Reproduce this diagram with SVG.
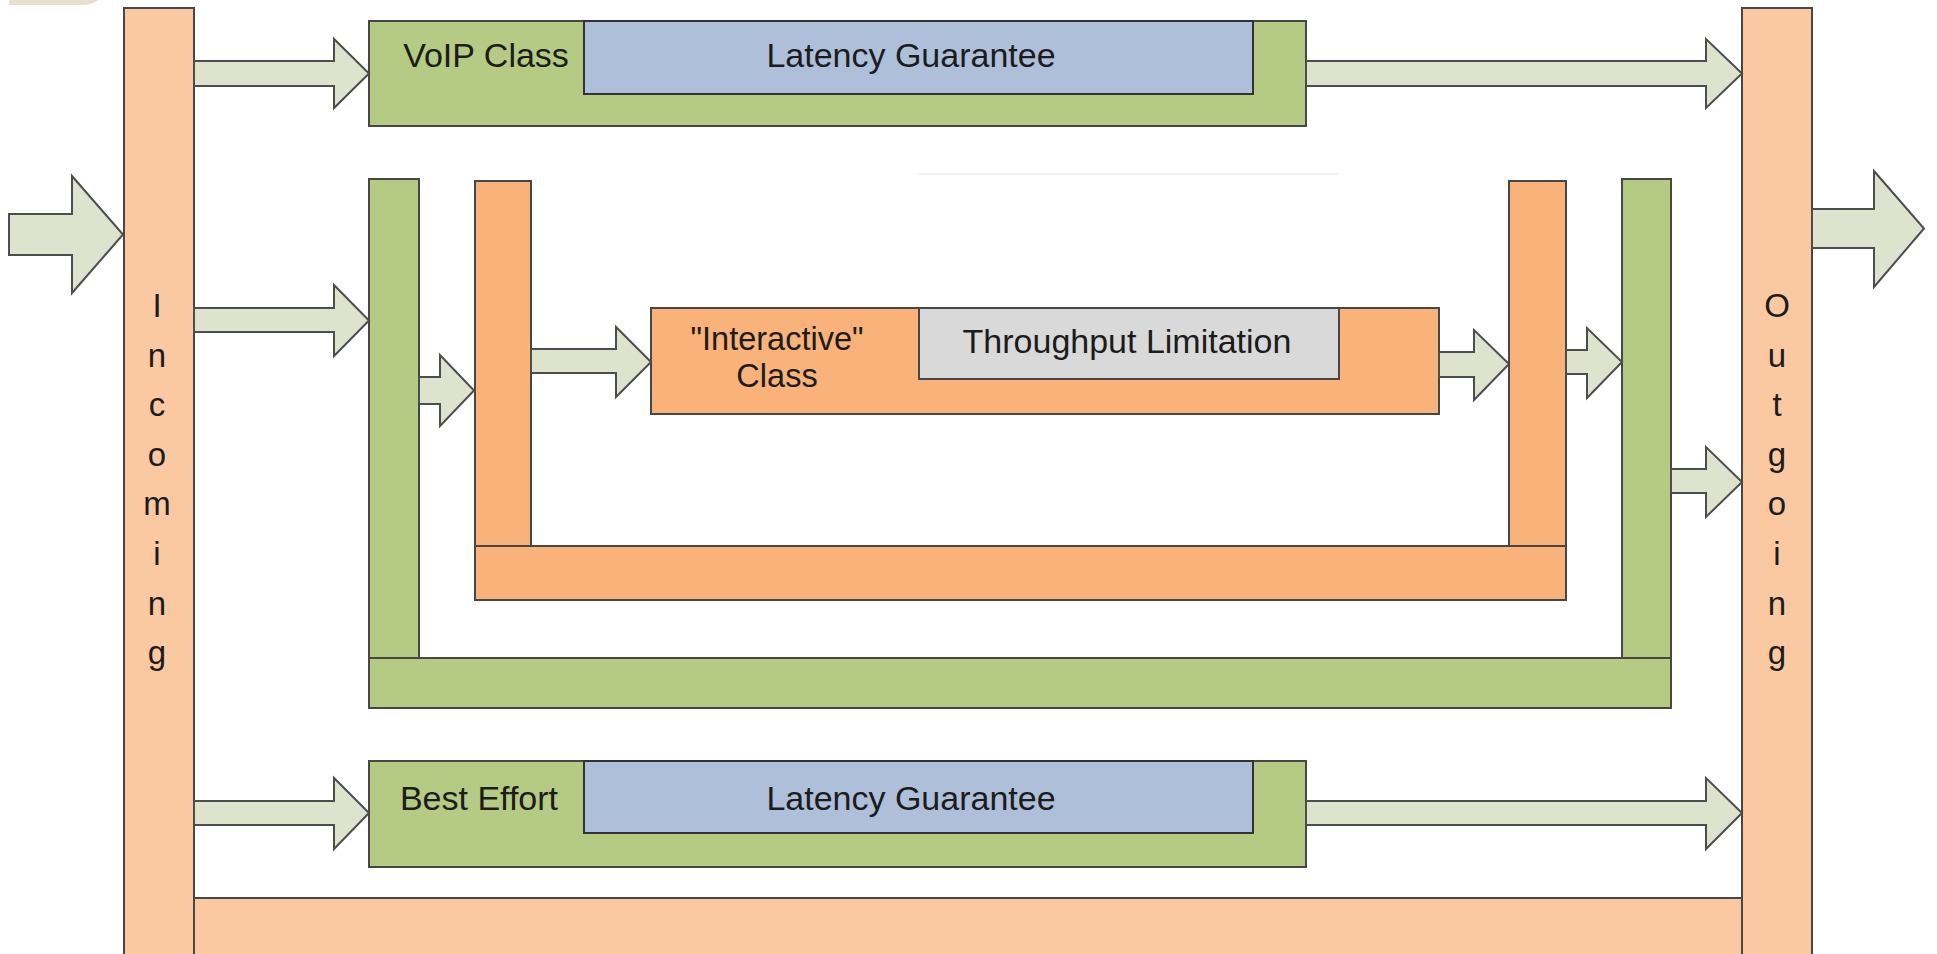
<svg xmlns="http://www.w3.org/2000/svg" width="1937" height="954" viewBox="0 0 1937 954">
<style>
  .peach{fill:#FAC9A2;stroke:#474747;stroke-width:2}
  .orange{fill:#F9B279;stroke:#474747;stroke-width:2}
  .green{fill:#B5CA83;stroke:#474747;stroke-width:2}
  .blue{fill:#AEC0D9;stroke:#333;stroke-width:2}
  .grey{fill:#D9D9D9;stroke:#474747;stroke-width:2}
  .arr{fill:#DEE3CE;stroke:#4d4d4d;stroke-width:2;stroke-linejoin:miter}
  text{font-family:"Liberation Sans",Arial,Helvetica,sans-serif;fill:#1c1c1c}
  .lbl{font-size:34px}
  .lbl2{font-size:32.5px}
  .vert{font-size:33px;text-anchor:middle}
</style>
<rect x="0" y="0" width="1937" height="954" fill="#ffffff"/>
<path d="M9,0 H98 Q92,5 82,5 H9 Z" fill="#E6E0CC"/>
<line x1="919" y1="174" x2="1338" y2="174" stroke="#efefef" stroke-width="2"/>

<g id="incoming">
  <rect class="peach" x="124" y="8" width="70" height="960"/>
  <text class="vert" x="157" y="317">I</text>
  <text class="vert" x="157" y="366.6">n</text>
  <text class="vert" x="157" y="416.2">c</text>
  <text class="vert" x="157" y="465.8">o</text>
  <text class="vert" x="157" y="515.4">m</text>
  <text class="vert" x="157" y="565">i</text>
  <text class="vert" x="157" y="614.6">n</text>
  <text class="vert" x="157" y="664.2">g</text>
</g>
<g id="outgoing">
  <rect class="peach" x="1742" y="8" width="70" height="960"/>
  <text class="vert" x="1777" y="317">O</text>
  <text class="vert" x="1777" y="366.6">u</text>
  <text class="vert" x="1777" y="416.2">t</text>
  <text class="vert" x="1777" y="465.8">g</text>
  <text class="vert" x="1777" y="515.4">o</text>
  <text class="vert" x="1777" y="565">i</text>
  <text class="vert" x="1777" y="614.6">n</text>
  <text class="vert" x="1777" y="664.2">g</text>
</g>
<g id="bottom-bar">
  <rect class="peach" x="194" y="898" width="1548" height="70"/>
</g>

<g id="voip-class">
  <rect class="green" x="369" y="21" width="937" height="105"/>
  <rect class="blue" x="584" y="21" width="669" height="73"/>
  <text class="lbl" x="486" y="67" text-anchor="middle">VoIP Class</text>
  <text class="lbl" x="911" y="67" text-anchor="middle">Latency Guarantee</text>
</g>

<g id="green-u">
  <rect class="green" x="369" y="179" width="50" height="529"/>
  <rect class="green" x="1622" y="179" width="49" height="529"/>
  <rect class="green" x="369" y="658" width="1302" height="50"/>
</g>

<g id="orange-u">
  <rect class="orange" x="475" y="181" width="56" height="419"/>
  <rect class="orange" x="1509" y="181" width="57" height="419"/>
  <rect class="orange" x="475" y="546" width="1091" height="54"/>
</g>

<g id="interactive-class">
  <rect class="orange" x="651" y="308" width="788" height="106"/>
  <rect class="grey" x="919" y="308" width="420" height="71"/>
  <text class="lbl2" x="777" y="349.5" text-anchor="middle">"Interactive"</text>
  <text class="lbl2" x="777" y="386.5" text-anchor="middle">Class</text>
  <text class="lbl" x="1127" y="353" text-anchor="middle">Throughput Limitation</text>
</g>

<g id="best-effort">
  <rect class="green" x="369" y="761" width="937" height="106"/>
  <rect class="blue" x="584" y="761" width="669" height="72"/>
  <text class="lbl" x="479" y="810" text-anchor="middle">Best Effort</text>
  <text class="lbl" x="911" y="810" text-anchor="middle">Latency Guarantee</text>
</g>

<g id="connectors">
  <polygon class="arr" points="9,214 72,214 72,176 123,234.5 72,293 72,255 9,255"/>
  <polygon class="arr" points="194,61 334,61 334,39 369,73.5 334,108 334,86 194,86"/>
  <polygon class="arr" points="1306,61 1706,61 1706,39 1742,73.5 1706,108 1706,86 1306,86"/>
  <polygon class="arr" points="194,308 334,308 334,285 369,320.5 334,356 334,332 194,332"/>
  <polygon class="arr" points="419,377 440,377 440,355 474,390.5 440,426 440,404 419,404"/>
  <polygon class="arr" points="531,349 616,349 616,327 651,362 616,397 616,373 531,373"/>
  <polygon class="arr" points="1439,352 1474,352 1474,330 1509,364 1474,400 1474,377 1439,377"/>
  <polygon class="arr" points="1566,350 1587,350 1587,328 1622,362 1587,398 1587,374 1566,374"/>
  <polygon class="arr" points="1671,469 1706,469 1706,447 1742,482 1706,517 1706,493 1671,493"/>
  <polygon class="arr" points="194,801 334,801 334,778 369,813 334,849 334,825 194,825"/>
  <polygon class="arr" points="1306,801 1706,801 1706,778 1742,813 1706,849 1706,825 1306,825"/>
  <polygon class="arr" points="1812,209 1874,209 1874,171 1924,228.5 1874,287 1874,248 1812,248"/>
</g>
</svg>
